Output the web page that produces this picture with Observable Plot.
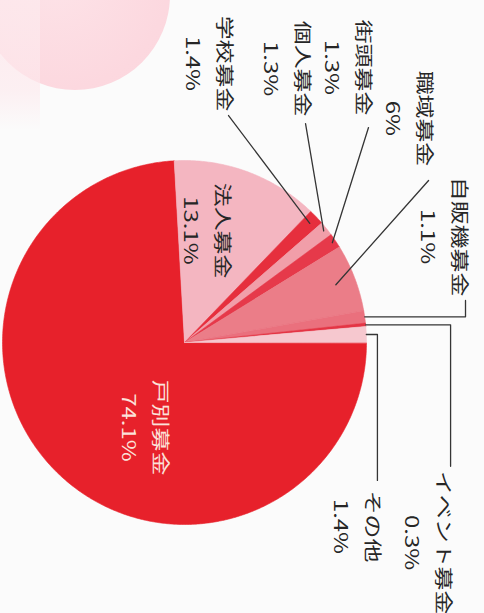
<!DOCTYPE html>
<html>
<head>
<meta charset="utf-8">
<script src="https://cdn.jsdelivr.net/npm/d3@7"></script>
<script src="https://cdn.jsdelivr.net/npm/@observablehq/plot@0.6"></script>
<style>
  html, body { margin: 0; padding: 0; background: #fbfbfb; }
  #wrap { position: relative; width: 484px; height: 613px; overflow: hidden; background: #fbfbfb; }
  #blob { position: absolute; left: -20px; top: -100px; width: 190px; height: 190px; border-radius: 50%;
          background: radial-gradient(circle at 40% 40%, #fde3e8 0%, #fcd8df 70%, #fbd6dd 100%); }
  #strip { position: absolute; left: 0; top: 0; width: 40px; height: 130px;
           background: linear-gradient(to bottom, rgba(253,232,236,0.9) 0%, rgba(253,232,236,0.6) 70%, rgba(253,232,236,0) 100%); }
  #chart { position: absolute; left: 0; top: 0; }
</style>
</head>
<body>
<div id="wrap"><div id="blob"></div><div id="strip"></div><div id="chart"></div></div>
<script>
// ---- data ----
const categories = ["戸別募金", "法人募金", "学校募金", "個人募金", "街頭募金", "職域募金", "自販機募金", "イベント募金", "その他"];
const shares = [74.1, 13.1, 1.4, 1.3, 1.3, 6, 1.1, 0.3, 1.4];
const shareLabels = ["74.1%", "13.1%", "1.4%", "1.3%", "1.3%", "6%", "1.1%", "0.3%", "1.4%"];

// ---- styles ----
const sliceColors = ["#e7212b", "#f4b6c1", "#e62f3d", "#f19ea9", "#e6394a", "#eb7d88", "#ea707d", "#e43545", "#f6c8cf"];

// ---- label layout (pie units: centre 0,0, radius 1) ----
const labelX = [-0.198, 0.143, 0.154, 0.582, 0.918, 1.253, 1.445, 1.357, 0.967];
const labelY = [-0.467, 0.615, 1.533, 1.505, 1.511, 1.231, 0.582, -1.100, -1.011];
// leader: kind "diag" (inner radius, outer x, outer y) or "elbow" (elbow x, end y)
const leaders = [
  null, null,
  {kind: "diag", r: 0.95, x: 0.242, y: 1.247},
  {kind: "diag", r: 0.98, x: 0.665, y: 1.203},
  {kind: "diag", r: 0.98, x: 1.011, y: 1.181},
  {kind: "diag", r: 0.89, x: 1.341, y: 0.890},
  {kind: "elbow", x: 1.544, y: 0.231},
  {kind: "elbow", x: 1.462, y: -0.680},
  {kind: "elbow", x: 1.060, y: -0.758}
];

// ---- geometry from data ----
const total = d3.sum(shares);
let cum = 0;
const slices = categories.map((name, i) => {
  const a0 = cum / total * 2 * Math.PI;
  cum += shares[i];
  const a1 = cum / total * 2 * Math.PI;
  const n = Math.max(2, Math.ceil((a1 - a0) / (Math.PI / 360)));
  const pts = [{x: 0, y: 0}];
  for (let k = 0; k <= n; k++) {
    const a = a0 + (a1 - a0) * k / n;
    pts.push({x: Math.cos(a), y: -Math.sin(a)});
  }
  return {name, a0, a1, mid: (a0 + a1) / 2, pts, color: sliceColors[i]};
});

const leaderRows = [];
slices.forEach((s, i) => {
  const L = leaders[i];
  if (!L) return;
  if (L.kind === "diag") {
    leaderRows.push({id: i, x: L.r * Math.cos(s.mid), y: -L.r * Math.sin(s.mid)});
    leaderRows.push({id: i, x: L.x, y: L.y});
  } else {
    const ry = -Math.sin(s.mid);
    leaderRows.push({id: i, x: Math.cos(s.mid), y: ry});
    leaderRows.push({id: i, x: L.x, y: ry});
    leaderRows.push({id: i, x: L.x, y: L.y});
  }
});

const labelRows = categories.map((name, i) => ({
  x: labelX[i], y: labelY[i], text: name + "\n" + shareLabels[i], light: i === 0
}));

const textOpts = {
  x: "x", y: "y", text: "text", rotate: 90, fontSize: 18, lineHeight: 1.78,
  textAnchor: "middle", lineAnchor: "middle",
  fontFamily: "'Noto Sans CJK JP', 'Noto Sans', sans-serif"
};

const plot = Plot.plot({
  width: 484,
  height: 613,
  margin: 0,
  style: {background: "transparent", overflow: "visible"},
  x: {domain: [-1, 1], range: [2, 366], axis: null},
  y: {domain: [-1, 1], range: [524, 160], axis: null},
  marks: [
    ...slices.map(s => Plot.line(s.pts, {x: "x", y: "y", fill: s.color, stroke: s.color, strokeWidth: 0.6, curve: "linear-closed"})),
    Plot.line(leaderRows, {x: "x", y: "y", z: "id", stroke: "#353535", strokeWidth: 1.3}),
    Plot.text(labelRows.filter(d => !d.light), {...textOpts, fill: "#262626"}),
    Plot.text(labelRows.filter(d => d.light), {...textOpts, fill: "#fbe2da"})
  ]
});

// stretch glyphs along the (rotated) text direction, as in the scanned original
plot.querySelectorAll('g[aria-label="text"] text').forEach(t => {
  const tr = t.getAttribute("transform") || "";
  t.setAttribute("transform", tr + " scale(1.33,1)");
});

document.getElementById("chart").appendChild(plot);
</script>
</body>
</html>
